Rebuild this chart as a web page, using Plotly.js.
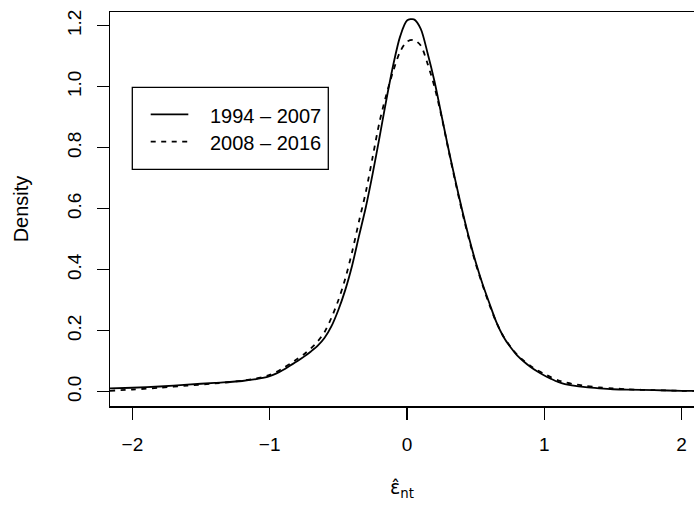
<!DOCTYPE html>
<html>
<head>
<meta charset="utf-8">
<script src="https://cdn.plot.ly/plotly-3.0.1.min.js"></script>
<style>html,body{margin:0;padding:0;background:#fff;}#chart{width:694px;height:505px;}</style>
</head>
<body>
<div id="chart"></div>
<script>
// Series 1: 1994 - 2007 (solid)
const x1 = [-2.163,-2.0,-1.8,-1.6,-1.4,-1.2,-1.1,-1.05,-1.0,-0.95,-0.9,-0.85,-0.8,-0.75,-0.7,-0.65,-0.6,-0.55,-0.5,-0.45,-0.4,-0.35,-0.3,-0.25,-0.2,-0.15,-0.1,-0.05,0.0,0.05,0.1,0.15,0.2,0.25,0.3,0.35,0.4,0.45,0.5,0.55,0.6,0.65,0.7,0.75,0.8,0.85,0.9,0.95,1.0,1.05,1.1,1.15,1.2,1.3,1.4,1.5,1.6,1.8,2.0,2.163];
const y1 = [0.011,0.013,0.017,0.023,0.029,0.035,0.041,0.045,0.051,0.060,0.072,0.086,0.100,0.115,0.132,0.151,0.177,0.215,0.268,0.333,0.413,0.510,0.605,0.715,0.835,0.958,1.072,1.165,1.217,1.221,1.19,1.11,1.018,0.909,0.80,0.697,0.598,0.507,0.425,0.353,0.29,0.229,0.182,0.148,0.12,0.099,0.081,0.066,0.053,0.042,0.032,0.025,0.021,0.015,0.011,0.008,0.007,0.005,0.003,0.002];
// Series 2: 2008 - 2016 (dashed)
const x2 = [-2.163,-2.0,-1.8,-1.6,-1.4,-1.2,-1.1,-1.05,-1.0,-0.95,-0.9,-0.85,-0.8,-0.75,-0.7,-0.65,-0.6,-0.55,-0.5,-0.45,-0.4,-0.35,-0.3,-0.25,-0.2,-0.15,-0.1,-0.05,0.0,0.05,0.1,0.15,0.2,0.25,0.3,0.35,0.4,0.45,0.5,0.55,0.6,0.65,0.7,0.75,0.8,0.85,0.9,0.95,1.0,1.05,1.1,1.15,1.2,1.3,1.4,1.5,1.6,1.8,2.0,2.163];
const y2 = [0.003,0.007,0.013,0.020,0.027,0.036,0.043,0.048,0.055,0.065,0.078,0.092,0.107,0.123,0.142,0.165,0.196,0.243,0.30,0.37,0.458,0.558,0.655,0.77,0.885,0.975,1.052,1.115,1.148,1.153,1.135,1.075,1.0,0.905,0.797,0.692,0.593,0.502,0.42,0.35,0.285,0.228,0.183,0.15,0.122,0.102,0.084,0.07,0.058,0.047,0.037,0.031,0.026,0.019,0.014,0.011,0.008,0.005,0.003,0.002];

const seriesNames = ["1994 \u2013 2007", "2008 \u2013 2016"];
const xTickVals = [-2,-1,0,1,2];
const xTickText = ["\u22122","\u22121","0","1","2"];
const yTickVals = [0,0.2,0.4,0.6,0.8,1.0,1.2];
const yTickText = ["0.0","0.2","0.4","0.6","0.8","1.0","1.2"];

const FONT = "Liberation Sans, Arial, Helvetica, sans-serif";
const DASH = "5px,5.5px";

const traces = [
  {x:x1, y:y1, type:"scatter", mode:"lines", name:seriesNames[0], showlegend:false,
   line:{color:"#000", width:1.8, shape:"spline", smoothing:0.8}},
  {x:x2, y:y2, type:"scatter", mode:"lines", name:seriesNames[1], showlegend:false,
   line:{color:"#000", width:1.8, dash:DASH, shape:"spline", smoothing:0.8}}
];

// Legend (R-style boxed legend) drawn in paper coordinates
const legendShapes = [
  {type:"rect", xref:"paper", yref:"paper", x0:0.0382, x1:0.3738, y0:0.6008, y1:0.8089,
   line:{color:"#000", width:1.3}, fillcolor:"#fff", layer:"above"},
  {type:"line", xref:"paper", yref:"paper", x0:0.0697, x1:0.1341, y0:0.7404, y1:0.7404,
   line:{color:"#000", width:1.8}, layer:"above"},
  {type:"line", xref:"paper", yref:"paper", x0:0.0697, x1:0.1341, y0:0.6708, y1:0.6708,
   line:{color:"#000", width:1.8, dash:DASH}, layer:"above"}
];
const legendTexts = [
  {text:seriesNames[0], xref:"paper", yref:"paper", x:0.1683, y:0.7373, xanchor:"left", yanchor:"middle",
   showarrow:false, font:{family:FONT, size:20, color:"#000"}},
  {text:seriesNames[1], xref:"paper", yref:"paper", x:0.1683, y:0.6678, xanchor:"left", yanchor:"middle",
   showarrow:false, font:{family:FONT, size:20, color:"#000"}}
];

const layout = {
  width:694, height:505,
  margin:{l:110, r:0, t:12, b:99, pad:0},
  paper_bgcolor:"#fff", plot_bgcolor:"#fff",
  font:{family:FONT, color:"#000", size:19},
  showlegend:false,
  shapes:legendShapes,
  annotations:legendTexts,
  xaxis:{range:[-2.163, 2.090], showgrid:false, zeroline:false,
    showline:true, linecolor:"#000", linewidth:1.5, mirror:true,
    ticks:"outside", ticklen:12, tickwidth:1.3, tickcolor:"#000",
    tickvals:xTickVals, ticktext:xTickText, ticklabelstandoff:9,
    tickfont:{family:FONT, size:19},
    title:{text:"\u03b5\u0302<sub>nt</sub>", font:{family:"DejaVu Sans, Liberation Sans, sans-serif", size:19}, standoff:26}},
  yaxis:{range:[-0.0469, 1.245], showgrid:false, zeroline:false,
    showline:true, linecolor:"#000", linewidth:1.5, mirror:false,
    ticks:"outside", ticklen:12, tickwidth:1.3, tickcolor:"#000",
    tickvals:yTickVals, ticktext:yTickText, tickangle:-90, ticklabelstandoff:8,
    tickfont:{family:FONT, size:19},
    title:{text:"Density", font:{family:FONT, size:20}, standoff:30}}
};

Plotly.newPlot("chart", traces, layout, {displayModeBar:false, staticPlot:true});
</script>
</body>
</html>
